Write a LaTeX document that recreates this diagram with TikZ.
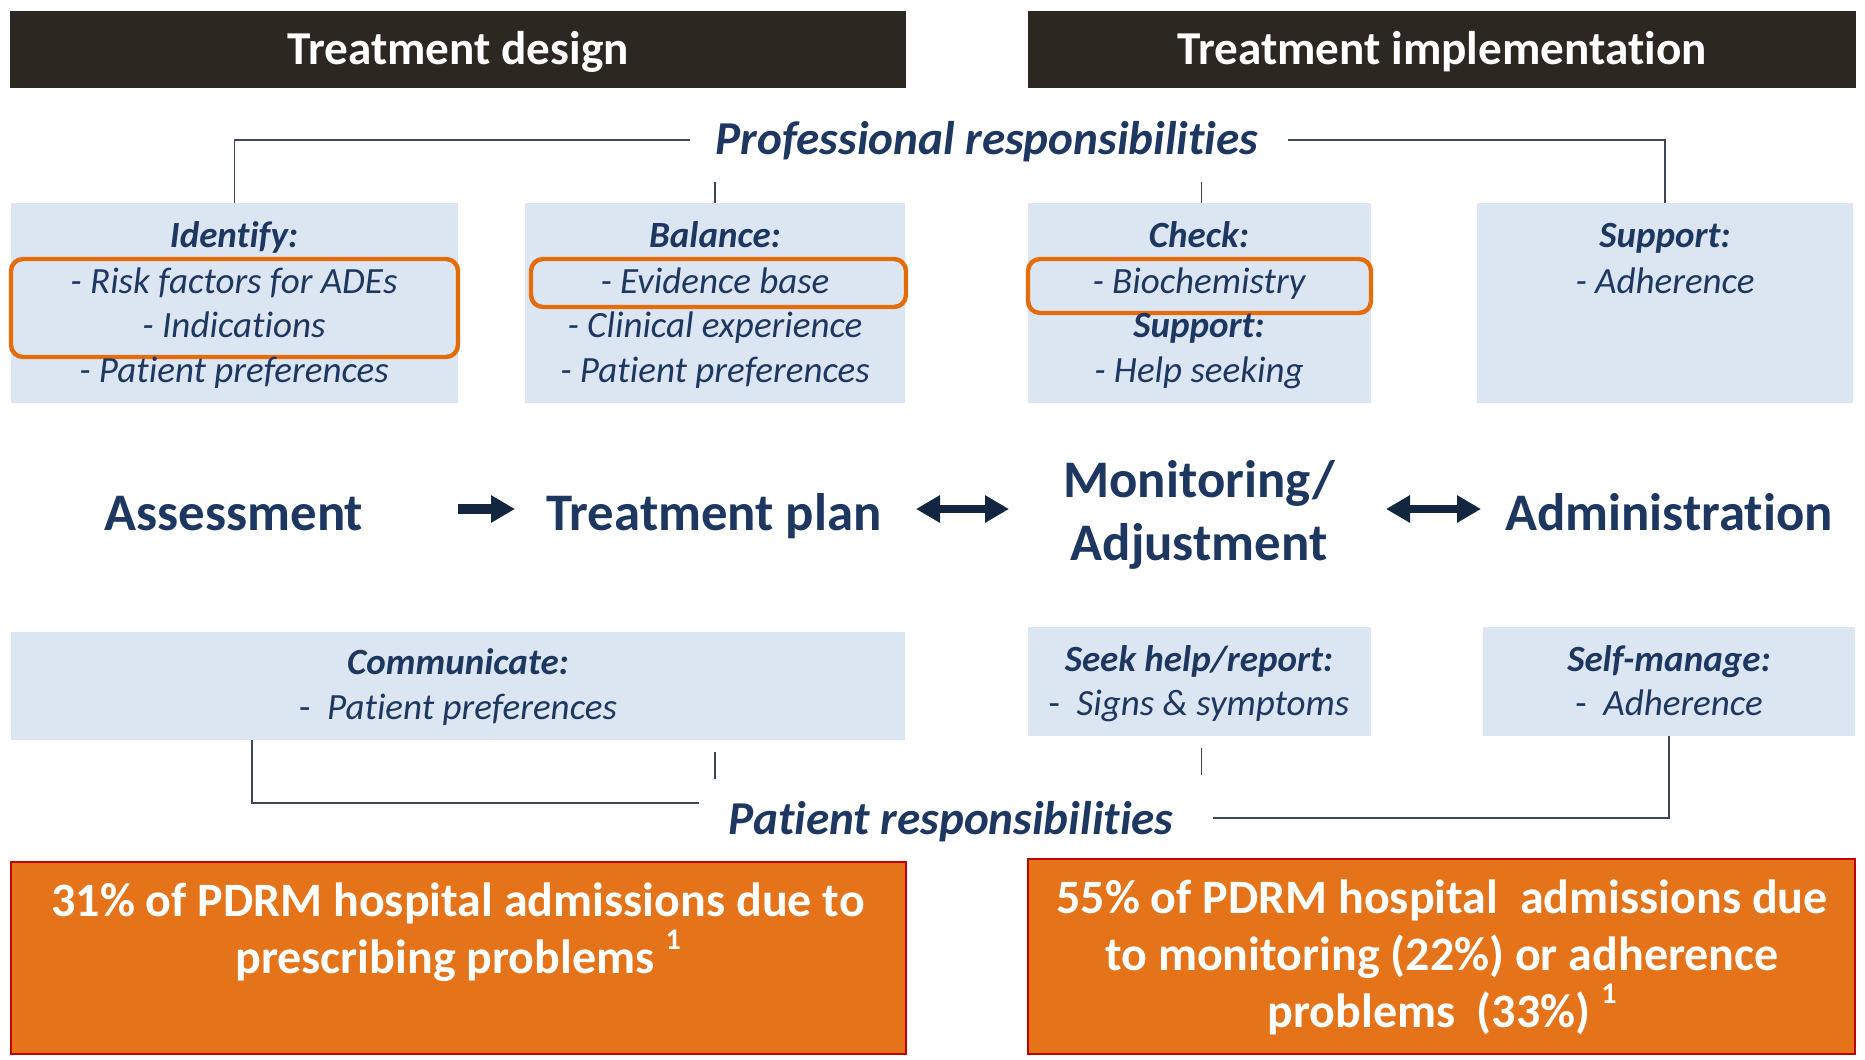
\documentclass[tikz,border=0pt]{standalone}
\usepackage{fontspec}
\setmainfont{Carlito}[Ligatures={NoCommon,NoContextual,NoRare},Contextuals=NoAlternate]
\usetikzlibrary{fit,arrows.meta}

\definecolor{navy}{HTML}{1D3761}
\definecolor{arrowcol}{HTML}{13263F}
\definecolor{linecol}{HTML}{3A475A}
\definecolor{panecol}{HTML}{DCE6F2}
\definecolor{hdrcol}{HTML}{2C2821}
\definecolor{hicol}{HTML}{E46C0A}
\definecolor{statcol}{HTML}{E4731A}
\definecolor{statedge}{HTML}{C00000}

\tikzset{
  hdr/.style={fill=hdrcol, draw=none, inner sep=0},
  hdrtxt/.style={text=white, font=\fontsize{23.6}{28}\selectfont\bfseries, anchor=base, inner sep=0},
  pane/.style={fill=panecol, draw=none, inner sep=0},
  ptxt/.style={text=navy, font=\fontsize{18.5}{22}\selectfont\itshape, anchor=base, inner sep=0},
  phead/.style={text=navy, font=\fontsize{18.5}{22}\selectfont\bfseries\itshape, anchor=base, inner sep=0},
  stage/.style={text=navy, font=\fontsize{26.4}{31}\selectfont\bfseries, anchor=base, inner sep=0},
  resp/.style={text=navy, font=\fontsize{23.6}{28}\selectfont\bfseries\itshape, anchor=base, inner sep=0},
  hilite/.style={draw=hicol, line width=2.2pt, rounded corners=6pt, inner sep=0},
  stat/.style={fill=statcol, draw=statedge, line width=1pt, inner sep=0},
  stattxt/.style={text=white, font=\fontsize{24}{29}\selectfont\bfseries, anchor=base, inner sep=0},
  link/.style={draw=linecol, line width=0.75pt},
  onearrow/.style={draw=arrowcol, line width=4.6pt, -{Triangle[length=12pt,width=13pt]}},
  twoarrow/.style={draw=arrowcol, line width=3.9pt, {Triangle[length=12pt,width=13pt]}-{Triangle[length=12pt,width=13pt]}},
}
\newcommand{\refmark}{\raisebox{0.5em}{\fontsize{15}{15}\selectfont\bfseries 1}}
\newcommand{\dashlead}{{\upshape -}\ \ }

\begin{document}
\begin{tikzpicture}[x=0.5pt,y=-0.5pt]
\useasboundingbox (0,0) rectangle (1865,1060);

% phase headers
\node[hdr, fit={(10,11) (906,88)}] (hdesign) {};
\node[hdrtxt] (hdesignt) at (458,64) {Treatment design};
\node[hdr, fit={(1028,11) (1856,88)}] (himpl) {};
\node[hdrtxt] (himplt) at (1442,64) {Treatment implementation};

% professional responsibilities
\node[resp] (prof) at (987,154) {Professional responsibilities};

\node[pane, fit={(11,203) (458,403)}] (idbox) {};
\node[pane, fit={(525,203) (905,403)}] (balbox) {};
\node[pane, fit={(1028,203) (1371,403)}] (chkbox) {};
\node[pane, fit={(1477,203) (1853,403)}] (supbox) {};

\node[hilite, fit={(11,259) (458,357)}] (idhl) {};
\node[hilite, fit={(531,259) (906,307)}] (balhl) {};
\node[hilite, fit={(1028,259) (1371,313)}] (chkhl) {};

\node[phead] (id0) at (234,247) {Identify:};
\node[ptxt]  (id1) at (234,293) {- Risk factors for ADEs};
\node[ptxt]  (id2) at (234,337) {- Indications};
\node[ptxt]  (id3) at (234,382) {- Patient preferences};

\node[phead] (bal0) at (715,247) {Balance:};
\node[ptxt]  (bal1) at (715,293) {- Evidence base};
\node[ptxt]  (bal2) at (715,337) {- Clinical experience};
\node[ptxt]  (bal3) at (715,382) {- Patient preferences};

\node[phead] (chk0) at (1199,247) {Check:};
\node[ptxt]  (chk1) at (1199,293) {- Biochemistry};
\node[phead] (chk2) at (1199,337) {Support:};
\node[ptxt]  (chk3) at (1199,382) {- Help seeking};

\node[phead] (sup0) at (1665,247) {Support:};
\node[ptxt]  (sup1) at (1665,293) {- Adherence};

\coordinate (profL) at (690,140);
\coordinate (profR) at (1288,140);
\draw[link] (idbox.north) |- (profL);
\draw[link] (supbox.north) |- (profR);
\draw[link] (balbox.north) -- ++(0,-21);
\draw[link] ([xshift=1pt]chkbox.north) -- ++(0,-21);

% care stages
\node[stage] (assess) at (234,530) {Assessment};
\node[stage] (plan) at (714,530) {Treatment plan};
\node[stage] (mon1) at (1199,497) {Monitoring/};
\node[stage] (mon2) at (1199,560) {Adjustment};
\node[stage] (admin) at (1669,530) {Administration};

\coordinate (a1s) at (458,509);
\coordinate (a1e) at (515,509);
\coordinate (a2s) at (916,509);
\coordinate (a2e) at (1009,509);
\coordinate (a3s) at (1386,509);
\coordinate (a3e) at (1481,509);
\draw[onearrow] (a1s) -- (a1e);
\draw[twoarrow] (a2s) -- (a2e);
\draw[twoarrow] (a3s) -- (a3e);

% patient responsibilities
\node[pane, fit={(11,632) (905,740)}] (combox) {};
\node[pane, fit={(1028,627) (1371,736)}] (seekbox) {};
\node[pane, fit={(1483,627) (1855,736)}] (selfbox) {};

\node[phead] (com0) at (458,674) {Communicate:};
\node[ptxt]  (com1) at (458,719) {\dashlead Patient preferences};
\node[phead] (seek0) at (1199,671) {Seek help/report:};
\node[ptxt]  (seek1) at (1199,715) {\dashlead Signs \& symptoms};
\node[phead] (self0) at (1669,671) {Self-manage:};
\node[ptxt]  (self1) at (1669,715) {\dashlead Adherence};

\node[resp] (pat) at (951,834) {Patient responsibilities};

\coordinate (comdrop) at (252,740);
\coordinate (patL) at (699,803);
\coordinate (patR) at (1213,818);
\draw[link] (comdrop) |- (patL);
\draw[link] (selfbox.south) |- (patR);
\draw[link] ([yshift=-6pt]combox.south -| balbox.south) -- ++(0,27);
\draw[link] ([yshift=-6pt,xshift=1pt]seekbox.south) -- ++(0,27);

% admission statistics
\node[stat, fit={(11,862) (906,1054)}] (statL) {};
\node[stattxt] (statL1) at (458,916) {31\% of PDRM hospital admissions due to};
\node[stattxt] (statL2) at (458,973) {prescribing problems \refmark};

\node[stat, fit={(1028,859) (1855,1054)}] (statR) {};
\node[stattxt] (statR1) at (1442,913) {55\% of PDRM hospital\ \ admissions due};
\node[stattxt] (statR2) at (1442,970) {to monitoring (22\%) or adherence};
\node[stattxt] (statR3) at (1442,1027) {problems\ \ (33\%) \refmark};
\end{tikzpicture}
\end{document}
